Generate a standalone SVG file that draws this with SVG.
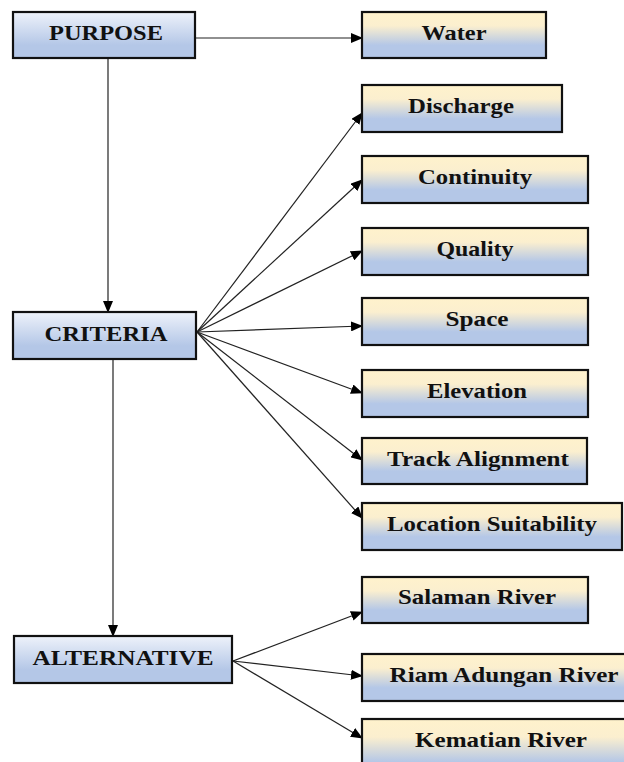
<svg xmlns="http://www.w3.org/2000/svg" width="624" height="762" viewBox="0 0 624 762">
<defs>
<linearGradient id="gR" x1="0" y1="0" x2="0" y2="1">
<stop offset="0" stop-color="#fff2cc"/>
<stop offset="0.3" stop-color="#fbefcf"/>
<stop offset="0.72" stop-color="#b4c7e7"/>
<stop offset="1" stop-color="#b4c7e7"/>
</linearGradient>
<linearGradient id="gL" x1="0" y1="0" x2="0" y2="1">
<stop offset="0" stop-color="#eef2fa"/>
<stop offset="0.72" stop-color="#b4c7e7"/>
<stop offset="1" stop-color="#b4c7e7"/>
</linearGradient>
<marker id="ah" markerWidth="12" markerHeight="10" refX="11" refY="5" orient="auto" markerUnits="userSpaceOnUse">
<path d="M0,0 L12,5 L0,10 Z" fill="#000"/>
</marker>
<style>
.bl{fill:url(#gL);stroke:#111;stroke-width:2.2}
.br{fill:url(#gR);stroke:#111;stroke-width:2.2}
.t{font-family:'Liberation Serif','Times New Roman',serif;font-weight:700;font-size:21px;fill:#111;text-anchor:middle}
.c{stroke:#222;stroke-width:1.2;fill:none;marker-end:url(#ah)}
</style>
</defs>
<g id="connectors">
<line class="c" x1="195" y1="38" x2="362" y2="38"/>
<line class="c" x1="108" y1="58" x2="108" y2="312"/>
<line class="c" x1="113" y1="359" x2="113" y2="636"/>
<line class="c" x1="197" y1="332" x2="362" y2="113"/>
<line class="c" x1="197" y1="332" x2="362" y2="180"/>
<line class="c" x1="197" y1="332" x2="362" y2="251"/>
<line class="c" x1="197" y1="332" x2="362" y2="326"/>
<line class="c" x1="197" y1="332" x2="362" y2="393"/>
<line class="c" x1="197" y1="332" x2="362" y2="460"/>
<line class="c" x1="197" y1="332" x2="362" y2="518"/>
<line class="c" x1="233" y1="661" x2="362" y2="612"/>
<line class="c" x1="233" y1="661" x2="362" y2="676"/>
<line class="c" x1="233" y1="661" x2="362" y2="738"/>
</g>
<g id="purpose"><rect class="bl" x="13" y="12" width="182" height="46"/><text class="t" x="106" y="40" textLength="114" lengthAdjust="spacingAndGlyphs">PURPOSE</text></g>
<g id="criteria"><rect class="bl" x="13" y="312" width="183" height="47"/><text class="t" x="106" y="341" textLength="123" lengthAdjust="spacingAndGlyphs">CRITERIA</text></g>
<g id="alternative"><rect class="bl" x="14" y="636" width="218" height="47"/><text class="t" x="123" y="665" textLength="181" lengthAdjust="spacingAndGlyphs">ALTERNATIVE</text></g>
<g id="water"><rect class="br" x="362" y="12" width="184" height="46"/><text class="t" x="454" y="40" textLength="65" lengthAdjust="spacingAndGlyphs">Water</text></g>
<g id="discharge"><rect class="br" x="362" y="85" width="200" height="47"/><text class="t" x="461" y="113" textLength="106" lengthAdjust="spacingAndGlyphs">Discharge</text></g>
<g id="continuity"><rect class="br" x="362" y="156" width="226" height="47"/><text class="t" x="475" y="184" textLength="114" lengthAdjust="spacingAndGlyphs">Continuity</text></g>
<g id="quality"><rect class="br" x="362" y="228" width="226" height="47"/><text class="t" x="475" y="256" textLength="77" lengthAdjust="spacingAndGlyphs">Quality</text></g>
<g id="space"><rect class="br" x="362" y="298" width="226" height="47"/><text class="t" x="477" y="326" textLength="63" lengthAdjust="spacingAndGlyphs">Space</text></g>
<g id="elevation"><rect class="br" x="362" y="370" width="226" height="47"/><text class="t" x="477" y="398" textLength="100" lengthAdjust="spacingAndGlyphs">Elevation</text></g>
<g id="track-alignment"><rect class="br" x="362" y="438" width="225" height="46"/><text class="t" x="478" y="466" textLength="182" lengthAdjust="spacingAndGlyphs">Track Alignment</text></g>
<g id="location-suitability"><rect class="br" x="362" y="503" width="260" height="47"/><text class="t" x="492" y="531" textLength="210" lengthAdjust="spacingAndGlyphs">Location Suitability</text></g>
<g id="salaman-river"><rect class="br" x="362" y="577" width="226" height="46"/><text class="t" x="477" y="604" textLength="158" lengthAdjust="spacingAndGlyphs">Salaman River</text></g>
<g id="riam-adungan-river"><rect class="br" x="362" y="654" width="284" height="47"/><text class="t" x="504" y="682" textLength="229" lengthAdjust="spacingAndGlyphs">Riam Adungan River</text></g>
<g id="kematian-river"><rect class="br" x="362" y="719" width="284" height="60"/><text class="t" x="501" y="747" textLength="172" lengthAdjust="spacingAndGlyphs">Kematian River</text></g>
</svg>
